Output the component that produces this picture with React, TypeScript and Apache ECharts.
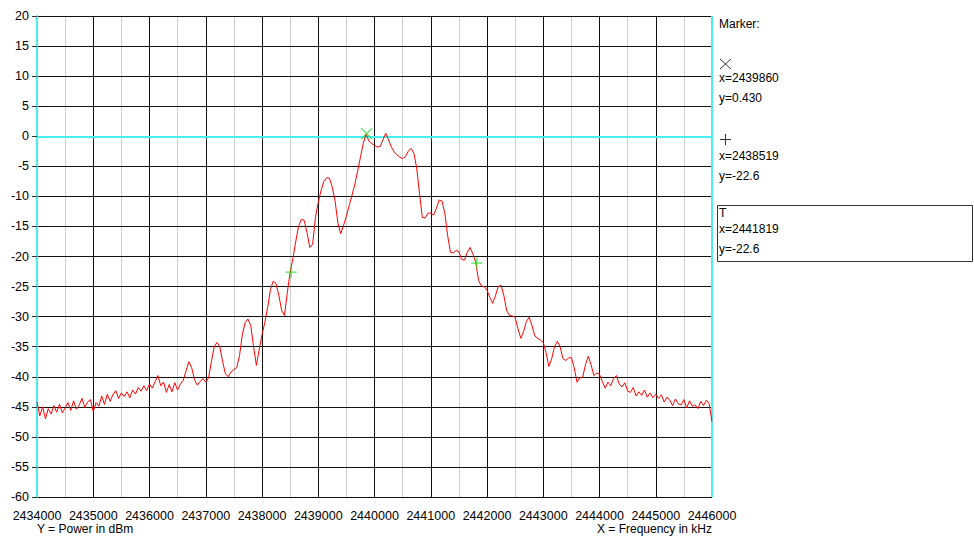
import React, { useEffect, useRef } from "react";
import * as echarts from "echarts";

const FREQ_START = 2434000;
const FREQ_STEP = 50;
const power = [
  -44.2, -46.5, -45.0, -47.0, -45.3, -46.2, -44.8, -45.9, -44.6, -46.0,
  -45.2, -44.3, -45.6, -44.0, -45.4, -44.7, -43.6, -45.1, -44.2, -43.8,
  -45.8, -44.3, -44.9, -43.2, -44.6, -42.9, -44.1, -43.0, -42.3, -43.6,
  -42.7, -43.3, -42.5, -43.5, -42.2, -42.9, -41.8, -42.4, -41.5, -42.3,
  -41.2, -41.9, -40.8, -39.8, -41.5, -40.9, -42.6, -41.3, -42.5, -41.0,
  -42.2, -41.2, -40.6, -39.0, -37.5, -38.5, -40.5, -41.4, -40.8, -40.3,
  -40.9, -40.2, -37.5, -35.0, -34.3, -35.0, -37.5, -39.5, -40.0, -39.2,
  -38.8, -38.5, -36.5, -33.0, -31.0, -30.4, -31.5, -35.0, -38.1, -35.5,
  -33.0, -31.0, -28.5, -25.5, -24.1, -24.5, -26.5, -29.0, -29.8, -26.0,
  -22.6, -20.3, -17.5, -15.0, -13.8, -14.0, -16.0, -18.5, -18.0, -13.5,
  -11.0, -9.0, -7.5, -6.9, -7.0, -8.5, -10.8, -14.5, -16.2, -14.8,
  -13.3, -11.5, -9.8, -8.0, -5.8, -3.5, -1.2, 0.4, -0.8, -1.2,
  -1.5, -1.8, -1.7, -0.6, 0.5, -0.6, -1.8, -2.6, -3.1, -3.5,
  -3.7, -3.4, -2.5, -2.0, -2.8, -5.3, -9.5, -13.5, -13.6, -12.8,
  -12.8, -13.1, -12.0, -10.6, -10.8, -12.8, -16.5, -19.3, -19.4, -19.0,
  -19.2, -20.5, -20.6, -19.3, -18.5, -19.6, -21.0, -24.0, -24.9, -25.0,
  -25.6, -26.8, -27.8, -26.5, -25.0, -24.8, -26.5, -29.0, -29.8, -29.9,
  -30.1, -32.0, -33.6, -32.5, -30.8, -30.1, -31.5, -33.2, -33.6, -33.9,
  -34.3, -36.0, -38.3, -37.0, -35.0, -34.1, -35.0, -37.0, -37.3, -36.9,
  -36.8, -38.5, -40.9, -40.2, -40.1, -38.0, -36.6, -38.0, -39.8, -39.4,
  -39.6, -40.8, -41.9, -40.9, -41.5, -40.3, -39.8, -41.2, -41.7, -41.0,
  -42.4, -42.6, -41.8, -43.2, -42.5, -43.1, -42.2, -43.4, -42.7, -43.5,
  -42.9, -43.6, -43.0, -44.2, -43.4, -43.9, -44.8, -43.7, -44.5, -44.7,
  -43.8, -45.2, -44.0, -44.9, -44.7, -45.3, -44.1, -44.8, -43.9, -44.5,
  -47.5,
];

const markerGlyphs = ["X", "+", "T"];
const markerFreqs = [2439860, 2438519, 2441819];
const markerPlotPowers = [0.43, -22.6, -21.1];
const markerLabelPowers = ["0.430", "-22.6", "-22.6"];

const xTickMin = 2434000;
const xTickMax = 2446000;
const xTickStep = 1000;
const xMinorStep = 500;
const yTickMin = -60;
const yTickMax = 20;
const yTickStep = 5;

const xTitle = "X = Frequency in kHz";
const yTitle = "Y = Power in dBm";

const FONT = "'Liberation Sans', Arial, sans-serif";
const CYAN = "#48eef0";
const GREEN = "#22e022";

export default function App() {
  const ref = useRef<HTMLDivElement>(null);

  useEffect(() => {
    document.body.style.margin = "0";
    const chart = echarts.init(ref.current!, null, { renderer: "svg" });
    const lineData = power.map((v, i) => [FREQ_START + FREQ_STEP * i, v]);
    const crossPath = "path://M0,0L10,10M10,0L0,10";
    const plusPath = "path://M5,0L5,10M0,5L10,5";

    const textBase = { fontFamily: FONT, fontSize: 12, fill: "#000" };
    const panelX = 719;
    const graphic: any[] = [
      { type: "text", left: panelX, top: 18, style: { ...textBase, text: "Marker:" } },
      { type: "line", shape: { x1: 720, y1: 59, x2: 731, y2: 69 }, style: { stroke: "#333", lineWidth: 1 } },
      { type: "line", shape: { x1: 731, y1: 59, x2: 720, y2: 69 }, style: { stroke: "#333", lineWidth: 1 } },
      { type: "text", left: panelX, top: 72, style: { ...textBase, text: "x=" + markerFreqs[0] } },
      { type: "text", left: panelX, top: 92, style: { ...textBase, text: "y=" + markerLabelPowers[0] } },
      { type: "line", shape: { x1: 720, y1: 139.5, x2: 731, y2: 139.5 }, style: { stroke: "#333", lineWidth: 1 } },
      { type: "line", shape: { x1: 725.5, y1: 134, x2: 725.5, y2: 145 }, style: { stroke: "#333", lineWidth: 1 } },
      { type: "text", left: panelX, top: 150, style: { ...textBase, text: "x=" + markerFreqs[1] } },
      { type: "text", left: panelX, top: 170, style: { ...textBase, text: "y=" + markerLabelPowers[1] } },
      { type: "rect", shape: { x: 717.5, y: 205.5, width: 255, height: 56 }, style: { fill: "none", stroke: "#333", lineWidth: 1 } },
      { type: "text", left: panelX, top: 207, style: { ...textBase, text: markerGlyphs[2] } },
      { type: "text", left: panelX, top: 223, style: { ...textBase, text: "x=" + markerFreqs[2] } },
      { type: "text", left: panelX, top: 243, style: { ...textBase, text: "y=" + markerLabelPowers[2] } },
      { type: "text", left: 37, top: 523, style: { ...textBase, text: yTitle } },
      { type: "text", right: 262, top: 523, style: { ...textBase, text: xTitle } },
    ];

    chart.setOption({
      animation: false,
      backgroundColor: "#fff",
      grid: { left: 37, right: 262, top: 16, bottom: 40, containLabel: false },
      xAxis: [
        {
          type: "value",
          min: xTickMin,
          max: xTickMax,
          interval: xTickStep,
          z: 1,
          axisLine: { show: false },
          axisTick: { show: true, length: 5, lineStyle: { color: "#333" } },
          axisLabel: {
            margin: 12,
            color: "#000",
            fontFamily: FONT,
            fontSize: 12.5,
            formatter: (v: number) => String(v),
          },
          splitLine: { show: true, lineStyle: { color: "#111", width: 1 } },
        },
        {
          type: "value",
          position: "bottom",
          min: xTickMin,
          max: xTickMax,
          interval: xMinorStep,
          z: 0,
          axisLine: { show: false },
          axisTick: { show: false },
          axisLabel: { show: false },
          splitLine: { show: true, lineStyle: { color: "#cfcfcf", width: 1 } },
        },
      ],
      yAxis: {
        type: "value",
        min: yTickMin,
        max: yTickMax,
        interval: yTickStep,
        z: 2,
        axisLine: { show: true, lineStyle: { color: CYAN, width: 2 } },
        axisTick: { show: true, length: 5, lineStyle: { color: "#333" } },
        axisLabel: { margin: 8, color: "#000", fontFamily: FONT, fontSize: 12.5 },
        splitLine: { show: true, lineStyle: { color: "#111", width: 1 } },
      },
      graphic,
      series: [
        {
          type: "line",
          data: lineData,
          showSymbol: false,
          symbol: "none",
          lineStyle: { color: "#ff0000", width: 1 },
          silent: true,
          z: 3,
          markLine: {
            silent: true,
            symbol: "none",
            label: { show: false },
            lineStyle: { color: CYAN, width: 2, type: "solid" },
            data: [{ yAxis: 0 }, { xAxis: xTickMax }],
            z: 2,
          },
        },
        {
          type: "scatter",
          data: [[markerFreqs[0], markerPlotPowers[0]]],
          symbol: crossPath,
          symbolSize: 11,
          itemStyle: { color: "none", borderColor: GREEN, borderWidth: 1.3 },
          silent: true,
          z: 4,
        },
        {
          type: "scatter",
          data: [
            [markerFreqs[1], markerPlotPowers[1]],
            [markerFreqs[2], markerPlotPowers[2]],
          ],
          symbol: plusPath,
          symbolSize: 11,
          itemStyle: { color: "none", borderColor: GREEN, borderWidth: 1.3 },
          silent: true,
          z: 4,
        },
      ],
    });
    return () => chart.dispose();
  }, []);

  return (
    <div
      ref={ref}
      style={{ position: "fixed", left: 0, top: 0, width: 974, height: 537, background: "#fff" }}
    />
  );
}
